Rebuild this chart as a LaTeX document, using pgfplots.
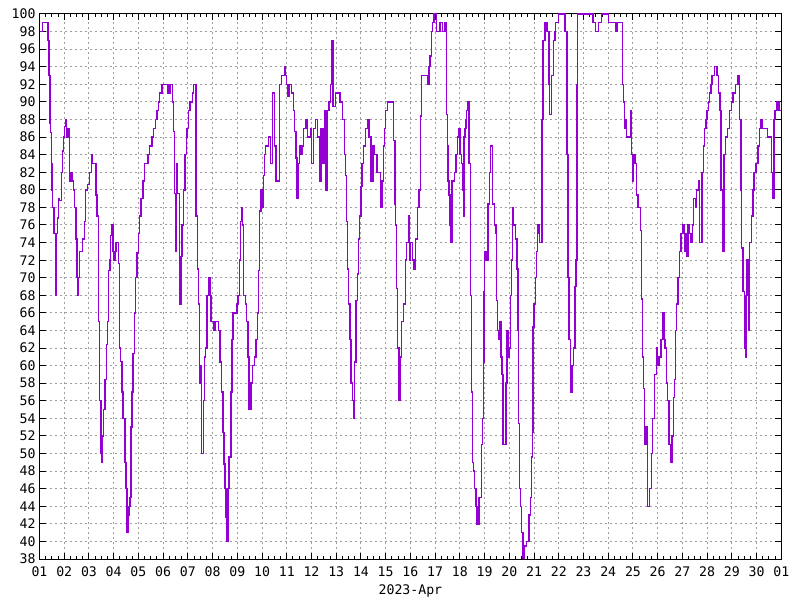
\documentclass[border=0pt]{standalone}
\usepackage{pgfplots}
\pgfplotsset{compat=1.18}
\usepackage{pgfplotstable}
\usepackage{fontspec}
\setmainfont{DejaVu Sans Mono}
\definecolor{hum}{HTML}{9400D3}
\pgfplotstableread{
x y
0.00 98
0.13 99
0.34 97
0.38 93
0.42 87.6
0.45 86.5
0.48 80
0.50 83
0.52 78
0.58 75
0.64 68
0.66 75
0.72 76.8
0.76 79
0.80 78.8
0.88 82
0.92 84.4
0.97 86
1.02 87.2
1.06 88
1.10 86
1.15 87
1.22 81
1.27 82
1.32 81
1.37 80
1.42 78
1.47 74.4
1.51 70
1.54 68
1.57 70
1.62 73
1.70 73
1.75 74.4
1.82 76.4
1.87 80
1.95 80.6
2.02 82
2.10 84
2.15 83
2.22 83
2.28 79.4
2.33 77
2.38 65
2.42 56
2.48 50
2.52 49
2.55 52
2.60 55
2.65 58.4
2.70 62.4
2.74 65
2.80 70.8
2.85 72
2.88 74.8
2.92 76
2.97 73
3.00 72
3.05 73
3.10 74
3.16 74
3.20 71.6
3.24 62
3.27 60.5
3.33 57
3.38 54
3.45 49
3.50 46
3.54 41
3.58 43
3.62 44
3.66 45
3.70 53
3.74 57
3.78 61.4
3.84 66
3.89 70
3.95 72.8
4.00 75
4.05 77
4.11 79
4.18 81
4.25 83
4.38 84
4.45 85
4.55 86
4.62 87
4.70 88
4.75 89
4.82 90
4.86 91
4.95 92
5.20 91
5.28 92
5.37 90
5.42 88
5.43 86.6
5.46 79.6
5.50 73
5.55 83
5.58 79.6
5.66 67
5.72 72.4
5.76 76
5.83 80
5.88 84
5.94 86
5.97 87
6.03 89
6.08 90
6.18 91
6.22 92
6.33 77
6.38 71
6.43 67
6.47 58
6.52 60
6.56 50
6.63 56
6.68 61
6.72 62
6.78 68
6.84 70
6.90 68
6.94 65
7.04 64
7.10 65
7.24 64
7.30 60.4
7.37 57
7.42 52.4
7.46 48.8
7.50 46
7.55 42.8
7.58 40
7.62 46
7.67 49.6
7.74 57
7.78 63
7.83 66
7.90 66
7.98 67
8.03 68
8.08 72
8.12 76.4
8.17 78
8.22 76
8.26 68
8.32 67
8.37 65
8.43 61
8.48 55
8.55 58
8.62 60
8.70 61
8.76 63
8.82 66
8.86 70.8
8.90 77.6
8.95 80
9.00 78
9.05 81.6
9.10 84
9.13 85
9.25 86
9.33 83
9.43 91
9.50 85
9.57 81
9.70 92
9.78 93
9.90 94
9.95 93
10.00 92
10.05 90.6
10.10 92
10.20 91
10.28 89
10.32 86.6
10.37 83.6
10.42 79
10.46 83
10.52 85
10.55 84
10.62 85
10.68 87
10.78 88
10.85 86
10.95 87
11.00 83
11.07 87
11.15 88
11.24 86
11.33 81
11.38 87
11.46 83
11.52 89
11.56 80
11.62 89
11.70 90
11.77 92
11.82 97
11.87 89.5
11.98 91
12.15 90
12.25 88
12.33 84
12.38 81.6
12.42 76.4
12.46 71
12.50 67
12.55 63
12.60 58
12.65 56
12.70 54
12.75 60.4
12.80 67.4
12.85 70.4
12.91 74.4
12.95 77
13.00 80.4
13.05 83
13.11 85
13.18 87
13.27 88
13.32 86
13.40 81
13.48 85
13.55 84
13.65 82
13.78 78
13.85 81
13.90 85
13.95 87
14.00 89
14.08 90
14.20 90
14.32 85.6
14.37 78.4
14.40 76
14.43 68.8
14.47 62
14.54 56
14.58 61
14.64 65
14.72 67
14.80 72
14.85 74
14.93 77
14.97 72
15.00 74
15.08 72
15.15 71
15.20 74.4
15.28 78
15.35 80
15.40 88.4
15.45 93
15.60 93
15.70 92
15.75 94
15.80 95.2
15.85 98
15.90 99
15.95 100
16.05 98
16.19 99
16.30 98
16.40 99
16.46 88.6
16.49 85
16.52 81
16.56 79.4
16.60 76
16.64 74
16.68 81
16.78 82
16.84 84
16.90 86
16.94 87
17.00 84
17.06 83
17.11 80
17.14 77
17.16 86
17.20 87
17.25 88
17.27 89
17.33 90
17.37 83
17.43 68
17.47 57
17.52 49
17.56 48
17.60 46
17.65 44
17.70 42
17.78 45
17.88 51
17.92 54
17.95 60.4
17.98 68.4
18.00 73
18.05 72
18.14 78.4
18.20 82
18.24 85
18.31 82
18.33 78.4
18.40 76
18.46 75
18.49 67.4
18.52 64
18.58 63
18.62 65
18.66 61
18.71 59
18.74 51
18.86 58
18.90 64
18.95 61
18.99 62
19.05 68
19.10 72
19.12 78
19.17 76
19.25 74.4
19.31 71
19.35 64
19.36 53.4
19.42 46
19.45 44
19.50 41
19.56 38
19.62 39.5
19.70 40
19.80 43
19.85 45
19.90 49.6
19.93 52.4
19.96 64.4
20.00 67
20.05 70
20.09 73
20.13 75
20.16 76
20.23 74
20.33 88
20.37 97
20.45 99
20.52 98
20.60 92
20.63 88.6
20.70 93
20.79 97
20.85 98
20.88 99
21.00 100
21.25 98
21.34 84
21.37 70
21.42 63
21.47 57
21.53 60
21.60 62
21.65 69
21.70 72
21.73 92
21.75 100
22.39 99
22.49 98
22.60 99
22.72 100
23.00 99
23.30 98
23.35 99
23.50 99
23.58 92
23.62 90
23.65 87
23.68 88
23.75 86
23.90 89
23.92 86.4
23.95 84
23.98 81
24.00 84
24.08 83
24.14 79.4
24.20 78
24.30 75.4
24.34 67.6
24.38 61
24.42 57.4
24.46 51
24.52 53
24.60 44
24.66 46
24.75 50
24.80 54
24.88 59
24.95 62
25.00 60
25.05 61
25.13 63
25.20 66
25.25 63
25.30 62
25.35 58
25.40 56
25.45 51
25.52 49
25.58 52
25.65 56.4
25.68 58.4
25.72 64
25.77 67
25.82 70
25.88 73
25.95 75
26.03 76
26.08 73
26.13 75
26.17 72.4
26.22 76
26.28 75
26.35 74
26.40 76
26.46 79
26.52 78
26.58 80
26.65 81
26.70 74
26.80 82
26.85 85
26.90 87
26.95 88
27.00 89
27.05 90
27.10 91
27.15 92
27.20 93
27.30 94
27.40 93
27.47 91
27.52 89
27.56 80
27.62 73
27.68 84
27.74 86
27.83 87
27.90 89
27.98 90
28.05 91
28.15 92
28.25 93
28.32 88
28.37 80
28.40 73.4
28.45 68.4
28.50 62
28.54 61
28.57 68
28.62 72
28.67 64
28.72 74
28.80 77
28.85 80
28.90 82
28.97 83
29.05 85
29.12 87
29.18 88
29.25 87
29.45 86
29.60 82
29.65 79
29.70 88
29.75 89
29.82 90
29.90 89
29.95 89
30.00 90
}\humdata
\begin{document}
\begin{tikzpicture}
\useasboundingbox (0,0) rectangle (400bp,300bp);
\begin{axis}[
  at={(19.75bp,20.5bp)}, anchor=south west,
  scale only axis, width=370.9bp, height=272.5bp,
  xmin=0, xmax=30, ymin=38, ymax=100,
  xtick={0,...,30},
  xticklabels={01,02,03,04,05,06,07,08,09,10,11,12,13,14,15,16,17,18,19,20,21,22,23,24,25,26,27,28,29,30,01},
  minor x tick num=3,
  ytick={38,40,...,100},
  tick align=inside,
  major tick length=3bp, minor tick length=1.6bp,
  grid=major,
  major grid style={color=black!38, dash pattern=on 1.2bp off 1.3bp, line width=0.5bp},
  axis line style={line width=0.5bp},
  every tick/.style={black, line width=0.5bp},
  ticklabel style={font=\fontsize{6.6bp}{7.5bp}\selectfont},
  /pgf/number format/assume math mode=true,
  yticklabel style={inner sep=1.8bp},
  xticklabel style={inner sep=2bp, yshift=-1.5bp},
  xlabel={2023-Apr},
  xlabel style={font=\fontsize{6.6bp}{7.5bp}\selectfont, at={(axis description cs:0.5,0)}, anchor=center, yshift=-16bp},
]
\addplot[const plot, color=hum, line width=0.7bp, mark=none] table[x=x, y=y] {\humdata};
\end{axis}
\end{tikzpicture}
\end{document}
